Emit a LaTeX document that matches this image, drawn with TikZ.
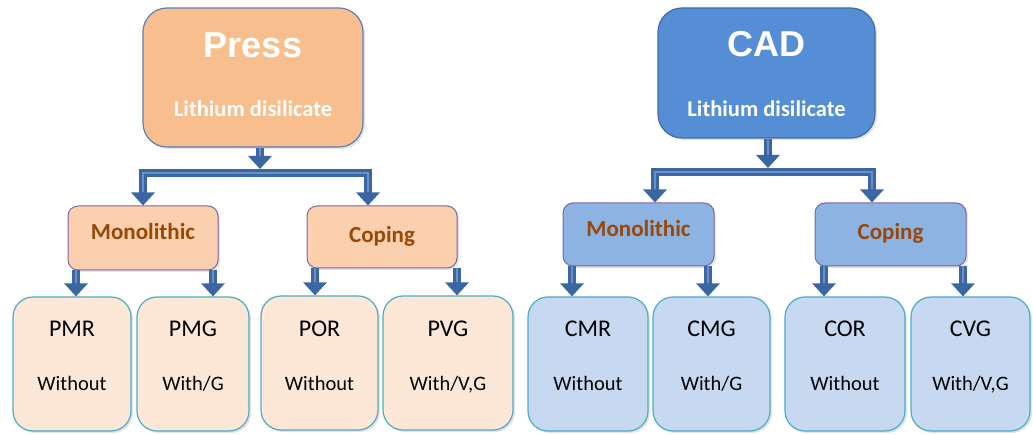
\documentclass[tikz,border=0pt]{standalone}
\usepackage{fontspec}
\setmainfont{Carlito}
\newfontfamily\headfont{Liberation Sans}
\usetikzlibrary{arrows.meta,shadows}
\definecolor{pressfill}{HTML}{F9BE8E}
\definecolor{pressline}{HTML}{5A80B8}
\definecolor{cadfill}{HTML}{558ED5}
\definecolor{cadline}{HTML}{3F6DB0}
\definecolor{pmidfill}{HTML}{FAD0AE}
\definecolor{cmidfill}{HTML}{8DB3E2}
\definecolor{midline}{HTML}{8064A2}
\definecolor{pbotfill}{HTML}{FDE7D6}
\definecolor{cbotfill}{HTML}{C6D9F1}
\definecolor{botline}{HTML}{4BACC6}
\definecolor{midtext}{HTML}{984807}
\definecolor{connblue}{HTML}{3A67A3}
\definecolor{connlight}{HTML}{6A90C6}
\begin{document}
\begin{tikzpicture}[x=1pt,y=-1pt,
  shad/.style={drop shadow={opacity=0.22,shadow xshift=2pt,shadow yshift=-2pt}},
  topbox/.style={shad,rounded corners=24pt,line width=1.2pt,inner sep=0pt},
  midbox/.style={shad,rounded corners=10pt,line width=1pt,draw=midline,inner sep=0pt},
  botbox/.style={shad,rounded corners=20pt,line width=1.2pt,draw=botline,inner sep=0pt,minimum height=134pt},
  headtxt/.style={anchor=base,text=white,font=\headfont\bfseries\fontsize{36}{36}\selectfont},
  subtxt/.style={anchor=base,text=white,font=\bfseries\fontsize{22.5}{22.5}\selectfont},
  midtxt/.style={anchor=base,text=midtext,font=\bfseries\fontsize{23}{23}\selectfont},
  codetxt/.style={anchor=base,text=black,font=\fontsize{24}{24}\selectfont},
  desctxt/.style={anchor=base,text=black,font=\fontsize{20.5}{20.5}\selectfont},
  conn/.style={draw=connblue,line width=7.5pt,line join=miter,
    -{Triangle[width=23pt,length=13pt]},
    postaction={draw=connlight,line width=1.2pt,shorten >=13pt,-}},
]
\useasboundingbox (0,0) rectangle (1033,435);

% ---------- Press side ----------
\node[topbox,fill=pressfill,draw=pressline,minimum width=220pt,minimum height=139pt] (press) at (253,77.5) {};
\node[headtxt] (presst) at ([yshift=19.5pt]press.center) {Press};
\node[subtxt] (pressl) at ([yshift=-39.5pt]press.center) {Lithium disilicate};

\node[midbox,fill=pmidfill,minimum width=150pt,minimum height=64pt] (pmono) at (143,238) {};
\node[midtxt] (pmonot) at ([yshift=-2pt]pmono.center) {Monolithic};
\node[midbox,fill=pmidfill,minimum width=150pt,minimum height=62pt] (pcop) at (382,237) {};
\node[midtxt] (pcopt) at ([yshift=-6pt]pcop.center) {Coping};

\node[botbox,fill=pbotfill,minimum width=118pt] (pmr) at (72,364) {};
\node[botbox,fill=pbotfill,minimum width=112pt] (pmg) at (193,364) {};
\node[botbox,fill=pbotfill,minimum width=117pt] (por) at (319.5,363) {};
\node[botbox,fill=pbotfill,minimum width=130pt] (pvg) at (448,363) {};

\node[codetxt] (pmr1) at ([yshift=27pt]pmr.center) {PMR};
\node[desctxt] (pmr2) at ([yshift=-26pt]pmr.center) {Without};
\node[codetxt] (pmg1) at ([yshift=27pt]pmg.center) {PMG};
\node[desctxt] (pmg2) at ([yshift=-26pt]pmg.center) {With/G};
\node[codetxt] (por1) at ([yshift=26pt]por.center) {POR};
\node[desctxt] (por2) at ([yshift=-27pt]por.center) {Without};
\node[codetxt] (pvg1) at ([yshift=26pt]pvg.center) {PVG};
\node[desctxt] (pvg2) at ([yshift=-27pt]pvg.center) {With/V,G};

% ---------- CAD side ----------
\node[topbox,fill=cadfill,draw=cadline,minimum width=217pt,minimum height=130pt] (cad) at (766.5,73) {};
\node[headtxt] (cadt) at ([yshift=16pt]cad.center) {CAD};
\node[subtxt] (cadl) at ([yshift=-44pt]cad.center) {Lithium disilicate};

\node[midbox,fill=cmidfill,minimum width=151pt,minimum height=63pt] (cmono) at (638.5,234.5) {};
\node[midtxt] (cmonot) at ([yshift=-2.5pt]cmono.center) {Monolithic};
\node[midbox,fill=cmidfill,minimum width=151pt,minimum height=63pt] (ccop) at (890.5,234.5) {};
\node[midtxt] (ccopt) at ([yshift=-5.5pt]ccop.center) {Coping};

\node[botbox,fill=cbotfill,minimum width=120pt] (cmr) at (588,364) {};
\node[botbox,fill=cbotfill,minimum width=117pt] (cmg) at (711.5,364) {};
\node[botbox,fill=cbotfill,minimum width=120pt] (cor) at (845,364) {};
\node[botbox,fill=cbotfill,minimum width=119pt] (cvg) at (970.5,364) {};

\node[codetxt] (cmr1) at ([yshift=27pt]cmr.center) {CMR};
\node[desctxt] (cmr2) at ([yshift=-26pt]cmr.center) {Without};
\node[codetxt] (cmg1) at ([yshift=27pt]cmg.center) {CMG};
\node[desctxt] (cmg2) at ([yshift=-26pt]cmg.center) {With/G};
\node[codetxt] (cor1) at ([yshift=27pt]cor.center) {COR};
\node[desctxt] (cor2) at ([yshift=-26pt]cor.center) {Without};
\node[codetxt] (cvg1) at ([yshift=27pt]cvg.center) {CVG};
\node[desctxt] (cvg2) at ([yshift=-26pt]cvg.center) {With/V,G};

% ---------- connector coordinates ----------
\coordinate (pstem) at (260,0);
\coordinate (pbar) at (260,173);
\coordinate (ptip) at (260,169);
\coordinate (pdl) at (143,0);
\coordinate (pdr) at (368,0);
\coordinate (cstem) at (768,0);
\coordinate (cbar) at (768,172);
\coordinate (ctip) at (768,168);
\coordinate (cdl) at (655,0);
\coordinate (cdr) at (872,0);
\coordinate (a1) at (76,0);
\coordinate (a2) at (213,0);
\coordinate (a3) at (315,0);
\coordinate (a4) at (457,0);
\coordinate (b1) at (572,0);
\coordinate (b2) at (708,0);
\coordinate (b3) at (824,0);
\coordinate (b4) at (963,0);

% ---------- connectors ----------
\draw[conn] (pbar) -| (pmono.north -| pdl);
\draw[conn] (pbar) -| (pcop.north -| pdr);
\draw[conn] (press.south -| pstem) -- (ptip);
\draw[conn] (cbar) -| (cmono.north -| cdl);
\draw[conn] (cbar) -| (ccop.north -| cdr);
\draw[conn] (cad.south -| cstem) -- (ctip);

\draw[conn] (pmono.south -| a1) -- (pmr.north -| a1);
\draw[conn] (pmono.south -| a2) -- (pmg.north -| a2);
\draw[conn] (pcop.south -| a3) -- (por.north -| a3);
\draw[conn] (pcop.south -| a4) -- (pvg.north -| a4);
\draw[conn] (cmono.south -| b1) -- (cmr.north -| b1);
\draw[conn] (cmono.south -| b2) -- (cmg.north -| b2);
\draw[conn] (ccop.south -| b3) -- (cor.north -| b3);
\draw[conn] (ccop.south -| b4) -- (cvg.north -| b4);
\end{tikzpicture}
\end{document}
